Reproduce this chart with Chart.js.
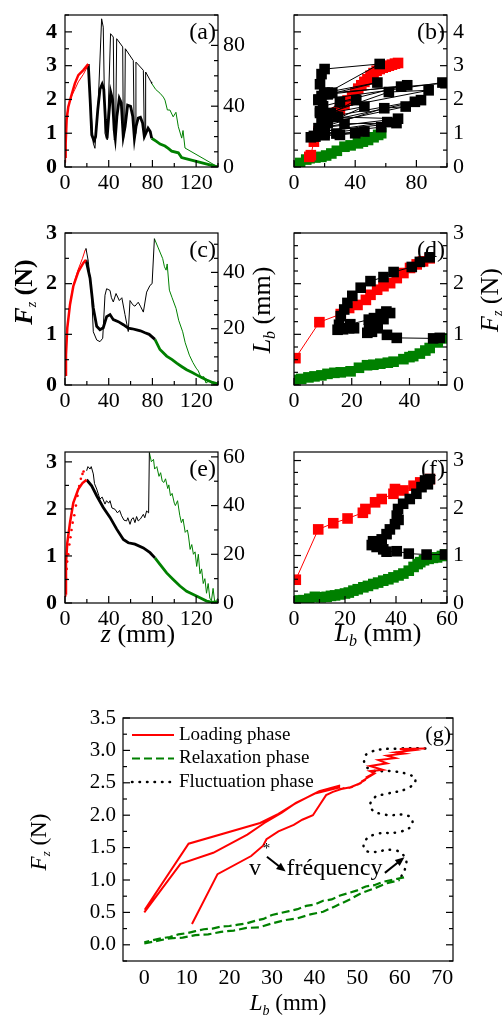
<!DOCTYPE html>
<html>
<head>
<meta charset="utf-8">
<script src="https://cdn.jsdelivr.net/npm/chart.js@4.4.1/dist/chart.umd.min.js"></script>
<style>
  body { margin: 0; background: #fff; }
  #wrap { position: relative; width: 502px; height: 1021px; overflow: hidden; }
  canvas { position: absolute; }
</style>
</head>
<body>
<div id="wrap">
  <canvas id="a" width="262" height="200" style="left:0;top:0"></canvas>
  <canvas id="b" width="240" height="200" style="left:262px;top:0"></canvas>
  <canvas id="c" width="278" height="220" style="left:0;top:200px"></canvas>
  <canvas id="d" width="224" height="220" style="left:278px;top:200px"></canvas>
  <canvas id="e" width="262" height="240" style="left:0;top:420px"></canvas>
  <canvas id="f" width="240" height="240" style="left:262px;top:420px"></canvas>
  <canvas id="g" width="502" height="341" style="left:0;top:680px"></canvas>
</div>
<script>
// ---- (a) force / length vs z ----
const aLoadZ = [0, 0.6, 1.5, 3, 5.5, 9, 12.2, 16.8, 21.3];
const aLoadF = [0.3, 0.7, 1.4, 1.78, 2.08, 2.47, 2.72, 2.87, 3.05];
const aLoadLb = [3, 25, 33, 40, 46, 51, 56, 61, 67];
const aFluctZ = [21.3, 23, 24.5, 26.5, 28, 30, 32, 34, 35.5, 37, 38.5, 40, 41.8, 43.5, 45, 46, 47.5, 49.7, 51.5, 53.3, 55, 57.3, 60, 62, 63.5, 65, 67, 69, 71, 72.6, 74, 76, 78, 79.3];
const aFluctF = [3.05, 2.0, 0.95, 0.78, 0.9, 1.7, 2.3, 2.45, 2.3, 1.4, 0.85, 1.5, 2.22, 2.0, 1.1, 0.85, 1.5, 2.03, 1.9, 0.9, 1.2, 1.83, 1.8, 1.5, 0.85, 1.2, 1.45, 1.47, 1.3, 0.9, 1.0, 1.15, 1.05, 0.85];
const aFluctZ2 = [21.3, 24, 25.9, 27.4, 30.5, 33.5, 35, 36.6, 38.7, 41.7, 44.2, 45.1, 46.3, 47.3, 52.8, 53.4, 54.6, 55.2, 62.5, 63.4, 64.6, 64.9, 71.7, 72.6, 73.5, 73.8, 78.7, 79.3];
const aFluctLb = [67, 35, 15.6, 12.3, 44, 97.5, 92, 22, 17.8, 87.7, 85.5, 17.8, 22, 84.4, 79, 17.8, 24, 77.8, 70, 18.9, 22, 69, 63.6, 21, 22, 62.5, 56, 55];
const aRelaxZ = [79.3, 84, 87, 91.5, 94.5, 97.6, 103.7, 106.7, 111.3, 140];
const aRelaxF = [0.85, 0.75, 0.68, 0.62, 0.55, 0.47, 0.42, 0.28, 0.24, 0];
const aRelaxZ2 = [79.3, 83, 87, 90, 91.5, 93.7, 96, 99, 101.5, 103.7, 106.8, 108, 109.8, 140];
const aRelaxLb = [55, 51, 48.5, 46, 44, 37.5, 37.5, 33, 36, 26.5, 19, 24, 12.5, 0];

// ---- (b) force vs Lb ----
const bLoadLb = [10, 11, 13, 16, 19, 22, 25, 28, 30, 33, 35, 38, 40, 42, 44, 46, 48, 50, 52, 54, 56, 58, 60, 62, 64, 66, 68];
const bLoadF = [0.3, 0.35, 0.75, 1.05, 1.3, 1.45, 1.55, 1.62, 1.7, 1.85, 1.97, 2.1, 2.2, 2.32, 2.42, 2.52, 2.6, 2.7, 2.78, 2.85, 2.9, 2.94, 2.97, 3.0, 3.03, 3.06, 3.08];
const bFluctLb = [11, 13, 16, 18, 17, 16, 17, 18, 20, 56, 22, 18, 54.5, 20, 16, 97, 99, 25, 22, 74, 70, 19, 17, 88, 62, 20, 30, 40.7, 19, 83, 79, 21, 24, 46, 22, 73, 59, 20, 28.8, 68, 16, 33, 67, 18, 61, 57, 20, 27.7, 46, 14, 20, 30, 40];
const bFluctF = [0.88, 0.92, 1.0, 1.3, 1.6, 2.0, 2.45, 2.75, 2.9, 3.05, 2.2, 2.1, 2.5, 2.2, 1.98, 2.5, 2.48, 2.2, 2.15, 2.42, 2.38, 1.8, 1.65, 2.27, 2.22, 1.55, 1.93, 1.98, 1.45, 1.98, 1.93, 1.35, 1.6, 1.79, 1.3, 1.79, 1.74, 1.2, 1.48, 1.43, 1.15, 1.28, 1.3, 1.05, 1.33, 1.18, 1.0, 0.99, 1.05, 0.9, 0.94, 0.95, 1.0];
const bRelaxLb = [0, 4, 8, 10.2, 14, 17.9, 21, 24.4, 28, 33, 37, 41.8, 45, 48.4, 52, 55, 57];
const bRelaxF = [0.03, 0.12, 0.22, 0.26, 0.28, 0.3, 0.34, 0.4, 0.48, 0.6, 0.64, 0.7, 0.75, 0.8, 0.88, 0.95, 1.0];

// ---- (c) ----
const cLoadZ = [0, 0.9, 2.1, 4.6, 7.6, 12.2, 16.8, 19.2];
const cLoadF = [0.2, 0.6, 1.13, 1.59, 1.95, 2.24, 2.41, 2.47];
const cLoadZ2 = [0, 1, 2, 5, 8, 12, 16, 18.5];
const cLoadLb = [3, 12, 20, 30, 36, 41, 45, 48];
const cFluctZ = [19.2, 22.9, 25.9, 29, 32, 35, 38.1, 41.2, 44.2, 48.8, 53.4, 57.9, 61.5, 65.5, 69, 73.2, 77, 82.3];
const cFluctF = [2.47, 2.11, 1.52, 1.16, 1.09, 1.13, 1.35, 1.39, 1.29, 1.25, 1.19, 1.12, 1.11, 1.09, 1.07, 1.03, 1.0, 0.9];
const cFluctZ2 = [18.5, 19.2, 21.3, 24.4, 25.9, 29, 32, 34.5, 36.6, 38.1, 41.2, 42.5, 44.2, 46.7, 49.7, 52, 54.9, 57.9, 59.5, 62, 64, 67, 69, 71.7, 74.7, 77.8, 79.7, 81.8];
const cFluctLb = [48, 48.5, 44, 31.9, 18.9, 16, 15.4, 16.6, 31.9, 34.2, 33.6, 31, 29.5, 32.5, 30, 31, 25, 19, 30, 28.5, 28, 29.4, 28, 25.9, 33, 35.4, 36, 52];
const cRelaxZ = [82.3, 86.9, 93, 98, 102.2, 107, 111.3, 116, 120.4, 125, 129.6, 135, 140];
const cRelaxF = [0.9, 0.7, 0.57, 0.5, 0.43, 0.36, 0.3, 0.25, 0.2, 0.15, 0.1, 0.05, 0.02];
const cRelaxZ2 = [81.8, 85, 89.4, 91, 92.5, 93.5, 95.5, 98, 101.6, 104, 107.7, 110, 113.8, 117, 120, 122, 124.6, 127, 129, 132, 135, 140];
const cRelaxLb = [52, 49, 44.9, 42, 40.8, 43, 33.7, 31, 27.2, 23, 18.9, 15, 10.6, 8, 6, 5, 2.5, 3, 0.7, 1.5, 0.3, 0];

// ---- (d) ----
const dLoadLb = [0.5, 8.8, 16.2, 19.1, 22, 24.9, 26.5, 28.8, 31, 33.3, 35.6, 37.9, 40.2, 42.5, 44.7, 47];
const dLoadF = [0.53, 1.24, 1.4, 1.52, 1.58, 1.68, 1.78, 1.88, 1.95, 2.01, 2.11, 2.21, 2.31, 2.38, 2.44, 2.5];
const dFluctLb = [47, 43.6, 40.8, 34.5, 31, 26.5, 23.1, 20.2, 18.5, 17.4, 16.2, 15.6, 15.1, 17, 19.1, 20.8, 19.5, 25.9, 27.7, 30, 32, 33.3, 31, 28.8, 26, 25.4, 27, 29, 32.2, 35.6, 48.2, 50.5];
const dFluctF = [2.52, 2.43, 2.33, 2.23, 2.13, 2.05, 1.92, 1.76, 1.62, 1.49, 1.36, 1.19, 1.09, 1.1, 1.12, 1.12, 1.2, 1.29, 1.32, 1.4, 1.45, 1.42, 1.3, 1.2, 1.1, 1.03, 1.05, 1.12, 0.99, 0.93, 0.92, 0.93];
const dRelaxLb = [0, 2.5, 5, 7.1, 9.5, 11.6, 14, 16.2, 19.6, 22.5, 25.3, 27.5, 29.9, 32.5, 34.5, 37.9, 40, 41.3, 43.6, 45.5, 47, 49.8, 52];
const dRelaxF = [0.1, 0.12, 0.15, 0.17, 0.19, 0.22, 0.24, 0.25, 0.27, 0.34, 0.39, 0.4, 0.42, 0.44, 0.46, 0.51, 0.55, 0.57, 0.62, 0.68, 0.73, 0.84, 0.92];

// ---- (e) ----
const eLoadZ = [0, 0.9, 2.1, 4.6, 7.6, 12.2, 16, 19.8];
const eLoadF = [0.2, 0.86, 1.28, 1.71, 2.13, 2.42, 2.55, 2.62];
const eLoadZ2 = [0.3, 0.6, 1, 1.5, 2, 3, 4, 5, 6, 7, 8.5, 10, 11.5, 13, 14.5, 16, 17];
const eLoadLb = [3, 6, 10, 14, 17, 20, 24, 27, 30, 33, 36, 40, 44, 48, 51, 53, 54];
const eFluctZ = [19.8, 24.4, 29, 35, 41.2, 47.3, 53.4, 57.9, 64, 71.7, 77.8, 82.3];
const eFluctF = [2.62, 2.49, 2.28, 2.03, 1.82, 1.57, 1.35, 1.28, 1.25, 1.17, 1.07, 0.96];
const eFluctZ2 = [19.8, 21, 22.9, 24, 25.9, 27, 29, 31, 32, 34, 36.6, 38, 40, 41.2, 43, 45.7, 48, 50, 51.8, 54, 56.4, 57.5, 59.5, 61, 62.5, 64, 65.5, 67, 69, 71.7, 73, 74.7, 76.5, 77.2];
const eFluctLb = [54.3, 56, 55, 56, 53, 49, 46.8, 44, 42.7, 43.5, 40.6, 42, 41, 42, 39, 38.5, 37, 38, 35.8, 34, 33.7, 35, 32.3, 34.5, 35, 33, 35.5, 33.7, 34.5, 36.4, 35, 37.8, 37, 61.8];
const eRelaxZ = [82.3, 86.9, 93, 99, 105.2, 111.3, 117.4, 123.5, 129.6, 134, 140];
const eRelaxF = [0.96, 0.82, 0.64, 0.5, 0.36, 0.25, 0.18, 0.11, 0.04, 0.02, 0.02];
const eRelaxZ2 = [77.2, 79, 81, 82, 84, 86, 87.5, 89, 90.5, 92, 94, 95, 96.5, 98, 100, 101, 103, 105, 106.5, 108, 110, 112, 113, 114.5, 116, 117.5, 119, 120.5, 122, 123.5, 125, 126.5, 128, 129.5, 131, 132.5, 134, 135.5, 137, 138.5, 140];
const eRelaxLb = [61.8, 58, 59, 55, 56, 52, 53.5, 50, 49.5, 51, 47, 48.5, 44, 45, 41, 40, 42, 36, 33, 34.5, 29, 30, 27.5, 22, 24, 20, 21, 15, 20, 12, 14, 8, 10, 4, 8, 2, 1, 6, 0.5, 1, 2];

// ---- (f) ----
const fLoadLb = [0.7, 9.5, 15.4, 21, 27, 28, 31.8, 34.4, 39, 39.6, 42.9, 46.9, 49.5, 53.3];
const fLoadF = [0.49, 1.55, 1.68, 1.78, 1.9, 1.98, 2.12, 2.19, 2.3, 2.4, 2.37, 2.47, 2.54, 2.61];
const fFluctLb = [53.3, 51.4, 52.5, 50, 48, 45.4, 42.8, 40.8, 40.3, 41, 39.6, 37.6, 36.3, 34.4, 31, 30.5, 32.4, 35, 36.3, 40.3, 45, 52, 59.2];
const fFluctF = [2.61, 2.58, 2.5, 2.44, 2.3, 2.19, 2.09, 1.98, 1.84, 1.75, 1.66, 1.55, 1.45, 1.34, 1.3, 1.22, 1.18, 1.13, 1.08, 1.09, 1.04, 1.02, 1.02];
const fRelaxLb = [0, 2, 3.7, 6, 8.2, 10.5, 12.8, 14.5, 16.1, 18, 20, 21.5, 23.3, 25, 27.2, 29, 31.1, 33, 35, 37, 39, 41, 42.9, 45, 46.9, 48.5, 49.5, 51, 52.8, 54.5, 56.1, 58, 59.3];
const fRelaxF = [0.05, 0.05, 0.06, 0.09, 0.13, 0.12, 0.13, 0.15, 0.16, 0.18, 0.2, 0.22, 0.26, 0.29, 0.33, 0.36, 0.4, 0.43, 0.47, 0.5, 0.54, 0.58, 0.62, 0.68, 0.76, 0.82, 0.86, 0.9, 0.93, 0.95, 0.96, 0.99, 1.02];

// ---- (g) phases ----
const gLoadLb = [0.1, 10.4, 27.2, 31.5, 35.2, 39.6, 41.1, 46, null, 0, 8.5, 16.2, 24.2, 28.2, 32.3, 35.6, 40.3, 46, null, 11.2, 17.2, 25.1, 27.9, 28.7, 31.5, 35.1, 37.1, 39.6, 41.1, 42.7, 44.3, 47, 46, 49, 48, 51, 50, 52, 51, 53, 52, 54, 53, 56, 53, 57, 55, 59, 57, 61, 59, 63, 60, 66];
const gLoadF = [0.54, 1.56, 1.88, 2.02, 2.17, 2.32, 2.37, 2.46, null, 0.5, 1.25, 1.42, 1.7, 1.88, 2.04, 2.19, 2.34, 2.43, null, 0.32, 1.09, 1.37, 1.53, 1.63, 1.75, 1.85, 1.93, 2.0, 2.15, 2.31, 2.36, 2.42, 2.4, 2.44, 2.42, 2.5, 2.47, 2.55, 2.52, 2.6, 2.58, 2.65, 2.68, 2.7, 2.76, 2.8, 2.85, 2.88, 2.92, 2.95, 2.97, 3.0, 3.02, 3.03];
const gRelaxLb = [61, 58, 56, 54, 52, 50, 48, 46, 44, 42, 40, 38, 36, 34, 32, 30, 28, 26, 24, 22, 20, 18, 16, 14, 12, 10, 8, 6, 4, 2, 0, null, 0, 3, 6, 9, 12, 15, 18, 21, 24, 27, 30, 33, 36, 39, 42, 45, 48, 51, 54, 57, 60];
const gRelaxF = [1.04, 1.0, 0.97, 0.92, 0.9, 0.84, 0.8, 0.76, 0.7, 0.68, 0.62, 0.6, 0.55, 0.52, 0.49, 0.46, 0.4, 0.37, 0.33, 0.31, 0.29, 0.28, 0.25, 0.24, 0.21, 0.18, 0.16, 0.12, 0.1, 0.07, 0.04, null, 0.02, 0.06, 0.1, 0.11, 0.15, 0.16, 0.2, 0.22, 0.26, 0.27, 0.33, 0.38, 0.41, 0.47, 0.51, 0.6, 0.69, 0.8, 0.87, 0.95, 1.0];
const gFluctLb = [66, 60.4, 53.2, 51.6, 53.2, 58, 62, 63.7, 62, 57, 54, 53.2, 56.4, 62, 62.9, 60.4, 54, 51.6, 52.4, 58.8, 61.3, 61.3, 60.4];
const gFluctF = [3.03, 3.03, 2.98, 2.85, 2.7, 2.68, 2.63, 2.55, 2.42, 2.33, 2.27, 2.11, 2.01, 1.99, 1.86, 1.75, 1.7, 1.57, 1.44, 1.46, 1.34, 1.19, 1.06];
const gLabels = ['Loading phase', 'Relaxation phase', 'Fluctuation phase'];

const RED = '#ff0000', GREEN = '#008000', BLACK = '#000000';
const serif = '"Liberation Serif", "Times New Roman", serif';
const font = (size, style) => (style ? style + ' ' : '') + size + 'px ' + serif;

const pts = (xs, ys) => xs.map((x, i) => ({ x: x, y: ys[i] }));
const line = (xs, ys, color, width, axis, extra) => Object.assign({
  data: pts(xs, ys), showLine: true, borderColor: color, backgroundColor: color,
  borderWidth: width, pointRadius: 0, yAxisID: axis || 'y', tension: 0
}, extra || {});
const sq = (xs, ys, color) => ({
  data: pts(xs, ys), showLine: true, borderColor: color, backgroundColor: color,
  borderWidth: 1, pointStyle: 'rect', pointRadius: 7.5, pointBorderWidth: 0
});

function axis(o) {
  return {
    type: 'linear', position: o.pos, min: o.min, max: o.max,
    grid: { display: false, drawTicks: false }, border: { display: false },
    ticks: {
      stepSize: o.step, includeBounds: false, color: '#000', padding: o.pad,
      font: { family: serif, size: o.size || 22, weight: o.bold ? 'bold' : 'normal', lineHeight: o.lh || 1.2 },
      callback: o.fmt || (v => v)
    },
    afterFit: s => { if (s.isHorizontal()) s.height = o.fit; else s.width = o.fit; }
  };
}

// titles with subscripts: [text, font, dy]
const fzTitle = (s, w) => [['F', font(s, 'italic ' + w)], ['z', font(Math.round(s * 0.55), 'italic'), s * 0.3], [' (N)', font(s, w)]];
const lbTitle = s => [['L', font(s, 'italic')], ['b', font(Math.round(s * 0.6), 'italic'), s * 0.3], [' (mm)', font(s)]];
const zTitle = s => [['z', font(s, 'italic')], [' (mm)', font(s)]];
const UP = -Math.PI / 2;

const DECO = {
  a: { label: '(a)', ticks: [['x', ['bottom'], 20], ['y', ['left'], 0.5], ['y2', ['right'], 10]] },
  b: { label: '(b)', ticks: [['x', ['bottom'], 20], ['y', ['left', 'right'], 0.5]] },
  c: { label: '(c)', ticks: [['x', ['bottom'], 20], ['y', ['left'], 0.5], ['y2', ['right'], 5]],
       titles: [{ x: 25, y: 92, rot: UP, parts: fzTitle(26, 'bold') }, { x: 263, y: 110, rot: UP, parts: lbTitle(26) }] },
  d: { label: '(d)', ticks: [['x', ['bottom'], 10], ['y', ['left', 'right'], 0.25]],
       titles: [{ x: 213, y: 100, rot: UP, parts: fzTitle(26, '') }] },
  e: { label: '(e)', ticks: [['x', ['bottom'], 20], ['y', ['left'], 0.5], ['y2', ['right'], 10]],
       titles: [{ x: 138, y: 215, parts: zTitle(26) }] },
  f: { label: '(f)', ticks: [['x', ['bottom'], 10], ['y', ['left', 'right'], 0.25]],
       titles: [{ x: 116, y: 214, parts: lbTitle(26) }] },
  g: { label: '(g)', labelSize: 22, ticks: [['y', ['left', 'right'], 0.25]], legend: true,
       titles: [{ x: 40, y: 162, rot: UP, parts: fzTitle(23, '') }, { x: 288, y: 324, parts: lbTitle(23) }],
       note: { v: [24.6, 1.08], star: [27.8, 1.42], freq: [33.4, 1.08], arrows: [[28.8, 1.36, 33.2, 1.13], [56.5, 1.11, 61.1, 1.35]] } }
};

function rich(ctx, it) {
  ctx.save();
  ctx.translate(it.x, it.y);
  if (it.rot) ctx.rotate(it.rot);
  ctx.fillStyle = '#000';
  ctx.textBaseline = 'middle';
  ctx.textAlign = 'left';
  let w = 0;
  it.parts.forEach(p => { ctx.font = p[1]; w += ctx.measureText(p[0]).width; });
  let cx = -w / 2;
  it.parts.forEach(p => { ctx.font = p[1]; ctx.fillText(p[0], cx, p[2] || 0); cx += ctx.measureText(p[0]).width; });
  ctx.restore();
}

function arrow(ctx, x1, y1, x2, y2) {
  const a = Math.atan2(y2 - y1, x2 - x1);
  ctx.beginPath(); ctx.moveTo(x1, y1); ctx.lineTo(x2 - 6 * Math.cos(a), y2 - 6 * Math.sin(a)); ctx.stroke();
  ctx.beginPath();
  ctx.moveTo(x2, y2);
  ctx.lineTo(x2 - 10 * Math.cos(a - 0.4), y2 - 10 * Math.sin(a - 0.4));
  ctx.lineTo(x2 - 10 * Math.cos(a + 0.4), y2 - 10 * Math.sin(a + 0.4));
  ctx.closePath(); ctx.fill();
}

Chart.register({
  id: 'deco',
  afterDraw(chart) {
    const cfg = DECO[chart.canvas.id];
    if (!cfg) return;
    const ctx = chart.ctx, ca = chart.chartArea;
    ctx.save();
    ctx.strokeStyle = '#000'; ctx.fillStyle = '#000'; ctx.lineWidth = 1.2;
    ctx.strokeRect(ca.left, ca.top, ca.right - ca.left, ca.bottom - ca.top);
    // inward ticks
    cfg.ticks.forEach(([id, edges, minor]) => {
      const s = chart.scales[id];
      const major = s.options.ticks.stepSize;
      for (let k = Math.ceil(s.min / minor - 1e-9); k * minor <= s.max + 1e-9; k++) {
        const v = k * minor, r = v / major;
        const len = Math.abs(r - Math.round(r)) < 1e-6 ? 7 : 4;
        const p = s.getPixelForValue(v);
        edges.forEach(e => {
          ctx.beginPath();
          if (e === 'left') { ctx.moveTo(ca.left, p); ctx.lineTo(ca.left + len, p); }
          if (e === 'right') { ctx.moveTo(ca.right, p); ctx.lineTo(ca.right - len, p); }
          if (e === 'bottom') { ctx.moveTo(p, ca.bottom); ctx.lineTo(p, ca.bottom - len); }
          ctx.stroke();
        });
      }
    });
    // panel letter
    ctx.font = font(cfg.labelSize || 24);
    ctx.textAlign = 'right'; ctx.textBaseline = 'top';
    ctx.fillText(cfg.label, ca.right - 2, ca.top + 6);
    (cfg.titles || []).forEach(t => rich(ctx, t));
    if (cfg.legend) {
      ctx.textAlign = 'left'; ctx.textBaseline = 'middle'; ctx.font = font(19);
      chart.data.datasets.forEach((ds, i) => {
        const y = ca.top + 17 + i * 23.5;
        ctx.save();
        ctx.strokeStyle = ds.borderColor; ctx.lineWidth = ds.borderWidth;
        ctx.setLineDash(ds.borderDash || []); ctx.lineCap = ds.borderCapStyle || 'butt';
        ctx.beginPath(); ctx.moveTo(ca.left + 9, y); ctx.lineTo(ca.left + 51, y); ctx.stroke();
        ctx.restore();
        ctx.fillText(ds.label, ca.left + 56, y);
      });
    }
    if (cfg.note) {
      const xs = chart.scales.x, ys = chart.scales.y, n = cfg.note;
      const P = (x, y) => [xs.getPixelForValue(x), ys.getPixelForValue(y)];
      ctx.textAlign = 'left'; ctx.textBaseline = 'alphabetic';
      ctx.font = font(24);
      let p = P(n.v[0], n.v[1]); ctx.fillText('v', p[0], p[1]);
      p = P(n.freq[0], n.freq[1]); ctx.fillText('fréquency', p[0], p[1]);
      ctx.font = font(15);
      p = P(n.star[0], n.star[1]); ctx.fillText('*', p[0], p[1]);
      ctx.lineWidth = 2;
      n.arrows.forEach(a => { const p1 = P(a[0], a[1]), p2 = P(a[2], a[3]); arrow(ctx, p1[0], p1[1], p2[0], p2[1]); });
    }
    ctx.restore();
  }
});

function make(id, datasets, scales, padding) {
  return new Chart(document.getElementById(id), {
    type: 'scatter',
    data: { datasets: datasets },
    options: {
      responsive: false, animation: false, layout: { padding: padding }, scales: scales,
      plugins: { legend: { display: false }, tooltip: { enabled: false } }
    }
  });
}

const zAxis = (fit) => axis({ pos: 'bottom', min: 0, max: 140, step: 40, pad: 3, fit: fit });

make('a', [
  line(aLoadZ, aLoadF, RED, 2.5), line(aLoadZ, aLoadLb, RED, 1, 'y2'),
  line(aFluctZ, aFluctF, BLACK, 2.8), line(aFluctZ2, aFluctLb, BLACK, 1, 'y2'),
  line(aRelaxZ, aRelaxF, GREEN, 2.8), line(aRelaxZ2, aRelaxLb, GREEN, 1, 'y2')
], {
  x: zAxis(33),
  y: axis({ pos: 'left', min: 0, max: 4.5, step: 1, bold: true, pad: 8, lh: 0.5, fit: 65 }),
  y2: axis({ pos: 'right', min: 0, max: 100, step: 40, pad: 5, lh: 0.5, fit: 44 })
}, { top: 15 });

make('b', [
  sq(bFluctLb, bFluctF, BLACK), sq(bLoadLb, bLoadF, RED), sq(bRelaxLb, bRelaxF, GREEN)
], {
  x: axis({ pos: 'bottom', min: 0, max: 100, step: 40, pad: 3, fit: 33 }),
  y: axis({ pos: 'right', min: 0, max: 4.5, step: 1, pad: 6, lh: 0.5, fit: 55 })
}, { top: 15, left: 32 });

make('c', [
  line(cLoadZ, cLoadF, RED, 2.5), line(cLoadZ2, cLoadLb, RED, 1, 'y2'),
  line(cFluctZ, cFluctF, BLACK, 2.8), line(cFluctZ2, cFluctLb, BLACK, 1, 'y2'),
  line(cRelaxZ, cRelaxF, GREEN, 2.8), line(cRelaxZ2, cRelaxLb, GREEN, 1, 'y2')
], {
  x: zAxis(35),
  y: axis({ pos: 'left', min: 0, max: 3, step: 1, bold: true, pad: 8, lh: 0.5, fit: 65 }),
  y2: axis({ pos: 'right', min: 0, max: 54, step: 20, pad: 5, lh: 0.5, fit: 60 })
}, { top: 33 });

make('d', [
  sq(dFluctLb, dFluctF, BLACK), sq(dLoadLb, dLoadF, RED), sq(dRelaxLb, dRelaxF, GREEN)
], {
  x: axis({ pos: 'bottom', min: 0, max: 53, step: 20, pad: 3, fit: 35 }),
  y: axis({ pos: 'right', min: 0, max: 3, step: 1, pad: 6, lh: 0.5, fit: 55 })
}, { top: 33, left: 16 });

make('e', [
  line(eLoadZ, eLoadF, RED, 2.5),
  line(eLoadZ2, eLoadLb, RED, 0, 'y2', { showLine: false, pointRadius: 1.3 }),
  line(eFluctZ, eFluctF, BLACK, 2.8), line(eFluctZ2, eFluctLb, BLACK, 1, 'y2'),
  line(eRelaxZ, eRelaxF, GREEN, 2.8), line(eRelaxZ2, eRelaxLb, GREEN, 1, 'y2')
], {
  x: zAxis(57),
  y: axis({ pos: 'left', min: 0, max: 3.21, step: 1, bold: true, pad: 8, lh: 0.5, fit: 65 }),
  y2: axis({ pos: 'right', min: 0, max: 62, step: 20, pad: 5, lh: 0.5, fit: 44 })
}, { top: 32 });

make('f', [
  sq(fFluctLb, fFluctF, BLACK), sq(fLoadLb, fLoadF, RED), sq(fRelaxLb, fRelaxF, GREEN)
], {
  x: axis({ pos: 'bottom', min: 0, max: 60, step: 20, pad: 3, fit: 57 }),
  y: axis({ pos: 'right', min: 0, max: 3.18, step: 1, pad: 6, lh: 0.5, fit: 55 })
}, { top: 32, left: 32 });

make('g', [
  line(gLoadLb, gLoadF, RED, 2, 'y', { label: gLabels[0] }),
  line(gRelaxLb, gRelaxF, GREEN, 2.2, 'y', { label: gLabels[1], borderDash: [8, 4] }),
  line(gFluctLb, gFluctF, BLACK, 2.5, 'y', { label: gLabels[2], borderDash: [0.5, 7], borderCapStyle: 'round', tension: 0.45 })
], {
  x: axis({ pos: 'bottom', min: -5, max: 72.5, step: 10, pad: 4, size: 22, fit: 60 }),
  y: axis({ pos: 'left', min: -0.25, max: 3.5, step: 0.5, pad: 7, size: 21, lh: 0.5, fit: 123, fmt: v => v.toFixed(1) })
}, { top: 38, right: 49 });
</script>
</body>
</html>
